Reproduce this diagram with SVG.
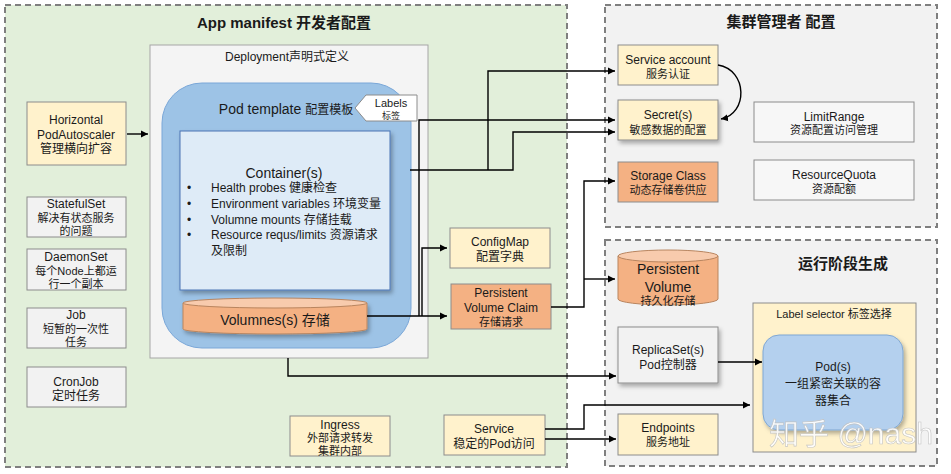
<svg xmlns="http://www.w3.org/2000/svg" width="951" height="474" viewBox="0 0 951 474">
<defs>
<style>
text{font-family:"Liberation Sans","Noto Sans CJK SC",sans-serif;fill:#1a1a1a;text-anchor:middle;font-size:12px}
.s11{font-size:11px}
.s14{font-size:14px}
.ttl{font-size:15px;font-weight:bold}
.st{text-anchor:start}
.panel{stroke:#7f7f7f;stroke-width:2;stroke-dasharray:6 4}
.box{stroke:#8c8c8c;stroke-width:1}
.y{fill:#fff2cc}
.g{fill:#f2f2f2}
.o{fill:#f4b183}
.w{fill:#f7f7f7}
.c path{fill:none;stroke:#000;stroke-width:1.4;marker-end:url(#ah)}
.wm{font-size:30px;fill:#ffffff;stroke:#bfbfbf;stroke-width:0.6;opacity:0.9}
</style>
<marker id="ah" markerWidth="8" markerHeight="8" refX="7" refY="4" orient="auto" markerUnits="userSpaceOnUse"><path d="M0,0.5 L7,4 L0,7.5 z" fill="#000"/></marker>
<filter id="sh" x="-10%" y="-10%" width="130%" height="130%"><feDropShadow dx="2" dy="3" stdDeviation="2" flood-color="#000" flood-opacity="0.3"/></filter>
</defs>
<rect width="951" height="474" fill="#ffffff"/>

<g id="panel-app">
<rect class="panel" x="5" y="5" width="562" height="462" fill="#e2efda"/>
<text class="ttl" x="284" y="28">App manifest 开发者配置</text>
</g>
<g id="panel-admin">
<rect class="panel" x="605" y="5" width="332" height="222" fill="#f2f2f2"/>
<text class="ttl" x="781" y="27">集群管理者 配置</text>
</g>
<g id="panel-runtime">
<rect class="panel" x="605" y="240" width="332" height="226" fill="#f2f2f2"/>
<text class="ttl" x="843" y="269">运行阶段生成</text>
</g>

<g id="deployment">
<rect x="150" y="45" width="278" height="313" fill="#f4f4f4" stroke="#a6a6a6"/>
<text x="287" y="61">Deployment声明式定义</text>
</g>
<g id="pod-template">
<rect x="162" y="83" width="249" height="265" rx="40" fill="#9dc3e6" stroke="#7aa7d8"/>
<text class="s14" x="286" y="114">Pod template <tspan style="font-size:12px">配置模板</tspan></text>
</g>
<g id="labels">
<path d="M355,108 L366,95 H417 V121 H366 Z" fill="#ffffff" stroke="#8c8c8c"/>
<text class="s11" x="391" y="107">Labels</text>
<text x="391" y="119" style="font-size:9px">标签</text>
</g>
<g id="container">
<rect x="180" y="131" width="210" height="159" fill="#deebf7" stroke="#4a74b4" filter="url(#sh)"/>
<text class="s14" x="284" y="178">Container(s)</text>
<text class="st" x="187" y="192">•</text><text class="st" x="211" y="192">Health probes 健康检查</text>
<text class="st" x="187" y="208">•</text><text class="st" x="211" y="208">Environment variables 环境变量</text>
<text class="st" x="187" y="224">•</text><text class="st" x="211" y="224">Volumne mounts 存储挂载</text>
<text class="st" x="187" y="239">•</text><text class="st" x="211" y="239">Resource requs/limits 资源请求</text>
<text class="st" x="211" y="255">及限制</text>
</g>
<g id="volumes">
<path d="M183,303 V329 A92,5 0 0 0 367,329 V303 Z" fill="#f4b183" stroke="#b9855f" filter="url(#sh)"/>
<ellipse cx="275" cy="303" rx="92" ry="5" fill="#f8cbad" stroke="#b9855f"/>
<text class="s14" x="275" y="325">Volumnes(s) 存储</text>
</g>

<g id="hpa">
<rect class="box y" x="27" y="102" width="99" height="63"/>
<text x="76" y="124">Horizontal</text>
<text x="76" y="139">PodAutoscaler</text>
<text x="76" y="153">管理横向扩容</text>
</g>
<g id="statefulset">
<rect class="box g" x="27" y="197" width="99" height="40"/>
<text x="76" y="208">StatefulSet</text>
<text class="s11" x="76" y="222">解决有状态服务</text>
<text class="s11" x="76" y="235">的问题</text>
</g>
<g id="daemonset">
<rect class="box g" x="27" y="249" width="99" height="41"/>
<text x="76" y="261">DaemonSet</text>
<text class="s11" x="76" y="275">每个Node上都运</text>
<text class="s11" x="76" y="288">行一个副本</text>
</g>
<g id="job">
<rect class="box g" x="27" y="308" width="99" height="40"/>
<text x="76" y="319">Job</text>
<text class="s11" x="76" y="333">短暂的一次性</text>
<text class="s11" x="76" y="346">任务</text>
</g>
<g id="cronjob">
<rect class="box g" x="27" y="367" width="99" height="40"/>
<text x="76" y="386">CronJob</text>
<text x="76" y="400">定时任务</text>
</g>

<g id="configmap">
<rect class="box y" x="450" y="228" width="100" height="40"/>
<text x="500" y="246">ConfigMap</text>
<text x="500" y="261">配置字典</text>
</g>
<g id="pvc">
<rect class="box o" x="451" y="284" width="100" height="45"/>
<text x="501" y="297">Persistent</text>
<text x="501" y="312">Volume Claim</text>
<text class="s11" x="501" y="326">存储请求</text>
</g>
<g id="ingress">
<rect class="box y" x="290" y="416" width="100" height="40"/>
<text x="340" y="429">Ingress</text>
<text class="s11" x="340" y="442">外部请求转发</text>
<text class="s11" x="340" y="455">集群内部</text>
</g>
<g id="service">
<rect class="box y" x="444" y="415" width="101" height="40"/>
<text x="494" y="433">Service</text>
<text x="494" y="448">稳定的Pod访问</text>
</g>

<g id="service-account">
<rect class="box y" x="618" y="45" width="100" height="40"/>
<text x="668" y="64">Service account</text>
<text class="s11" x="668" y="78">服务认证</text>
</g>
<g id="secrets">
<rect class="box y" x="618" y="100" width="100" height="40" filter="url(#sh)"/>
<text x="668" y="119">Secret(s)</text>
<text class="s11" x="668" y="134">敏感数据的配置</text>
</g>
<g id="storage-class">
<rect class="box o" x="618" y="162" width="100" height="40"/>
<text x="668" y="180">Storage Class</text>
<text class="s11" x="668" y="194">动态存储卷供应</text>
</g>
<g id="limitrange">
<rect class="box w" x="754" y="102" width="160" height="40"/>
<text x="834" y="121">LimitRange</text>
<text class="s11" x="834" y="134">资源配置访问管理</text>
</g>
<g id="resourcequota">
<rect class="box w" x="754" y="160" width="160" height="40"/>
<text x="834" y="179">ResourceQuota</text>
<text class="s11" x="834" y="193">资源配额</text>
</g>

<g id="pv">
<path d="M618,256 V299 A50,6 0 0 0 718,299 V256 Z" fill="#f4b183" stroke="#b9855f"/>
<ellipse cx="668" cy="256" rx="50" ry="6" fill="#f8cbad" stroke="#b9855f"/>
<text class="s14" x="668" y="274">Persistent</text>
<text class="s14" x="668" y="292">Volume</text>
<text class="s11" x="668" y="305">持久化存储</text>
</g>
<g id="replicaset">
<rect class="box g" x="618" y="327" width="100" height="56" filter="url(#sh)"/>
<text x="668" y="354">ReplicaSet(s)</text>
<text x="668" y="369">Pod控制器</text>
</g>
<g id="endpoints">
<rect class="box y" x="618" y="414" width="100" height="41"/>
<text x="668" y="432">Endpoints</text>
<text class="s11" x="668" y="446">服务地址</text>
</g>
<g id="label-selector">
<rect class="box y" x="753" y="303" width="163" height="149"/>
<text class="s11" x="834" y="318">Label selector 标签选择</text>
</g>
<g id="pods">
<rect x="763" y="335" width="140" height="95" rx="16" fill="#b4d0ee" stroke="#7fa7d3" filter="url(#sh)"/>
<text x="833" y="371">Pod(s)</text>
<text x="833" y="388">一组紧密关联的容</text>
<text x="833" y="405">器集合</text>
</g>

<g id="connectors" class="c">
<path d="M127,134 H148"/>
<path d="M410,170 H513 V132 H615"/>
<path d="M488,170 V71 H615"/>
<path d="M367,316 H447"/>
<path d="M419,316 V120 H615"/>
<path d="M422,316 V248 H447"/>
<path d="M551,307 H584 V181 H615"/>
<path d="M584,279 H615"/>
<path d="M288,358 V376 H616"/>
<path d="M718,362 H762"/>
<path d="M545,429 H584 V405 H750"/>
<path d="M545,439 H616"/>
<path d="M718,65 C748,70 748,114 721,119"/>
</g>

<text class="wm" x="851" y="444">知乎 @nash</text>
</svg>
